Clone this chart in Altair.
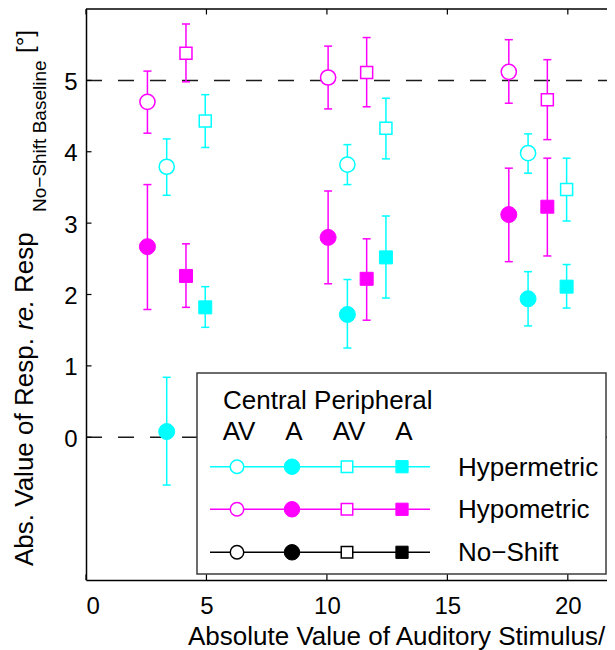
import altair as alt
import pandas as pd

# ---------------- data ----------------
directions = ["Hypermetric", "Hypometric"]
dir_colors = ["#00FFFF", "#FF00FF"]

# x positions of each condition at the three stimulus eccentricities
x_hypo_central = [2.55, 10.05, 17.55]
x_hyper_central = [3.35, 10.85, 18.35]
x_hypo_periph = [4.15, 11.65, 19.15]
x_hyper_periph = [4.95, 12.45, 19.95]

hyper_cen_av_mean = [3.79, 3.82, 3.98]
hyper_cen_av_lo = [3.39, 3.54, 3.70]
hyper_cen_av_hi = [4.18, 4.10, 4.25]

hyper_cen_a_mean = [0.08, 1.72, 1.94]
hyper_cen_a_lo = [-0.67, 1.25, 1.56]
hyper_cen_a_hi = [0.84, 2.21, 2.32]

hyper_per_av_mean = [4.43, 4.33, 3.47]
hyper_per_av_lo = [4.06, 3.90, 3.03]
hyper_per_av_hi = [4.80, 4.75, 3.91]

hyper_per_a_mean = [1.82, 2.52, 2.11]
hyper_per_a_lo = [1.54, 1.95, 1.81]
hyper_per_a_hi = [2.11, 3.10, 2.42]

hypo_cen_av_mean = [4.70, 5.04, 5.12]
hypo_cen_av_lo = [4.26, 4.60, 4.68]
hypo_cen_av_hi = [5.13, 5.48, 5.57]

hypo_cen_a_mean = [2.67, 2.80, 3.12]
hypo_cen_a_lo = [1.79, 2.15, 2.46]
hypo_cen_a_hi = [3.54, 3.45, 3.77]

hypo_per_av_mean = [5.38, 5.11, 4.73]
hypo_per_av_lo = [4.98, 4.63, 4.17]
hypo_per_av_hi = [5.79, 5.60, 5.29]

hypo_per_a_mean = [2.26, 2.22, 3.23]
hypo_per_a_lo = [1.82, 1.64, 2.54]
hypo_per_a_hi = [2.71, 2.78, 3.91]

x_ticks = [0, 5, 10, 15, 20]
y_ticks = [0, 1, 2, 3, 4, 5]
ref_lines = [0, 5]

legend_header = "Central Peripheral"
legend_cols = ["AV", "A", "AV", "A"]
legend_rows = ["Hypermetric", "Hypometric", "No\u2212Shift"]
legend_row_colors = ["#00FFFF", "#FF00FF", "#000000"]

x_title = "Absolute Value of Auditory Stimulus/"
y_title_parts = ["Abs. Value of Resp.", "re.", "Resp", "No\u2212Shift Baseline", "[\u00b0]"]

# ---------------- table ----------------
series = [
    ("Hypermetric", "Central", "AV", x_hyper_central, hyper_cen_av_mean, hyper_cen_av_lo, hyper_cen_av_hi),
    ("Hypermetric", "Central", "A", x_hyper_central, hyper_cen_a_mean, hyper_cen_a_lo, hyper_cen_a_hi),
    ("Hypermetric", "Peripheral", "AV", x_hyper_periph, hyper_per_av_mean, hyper_per_av_lo, hyper_per_av_hi),
    ("Hypermetric", "Peripheral", "A", x_hyper_periph, hyper_per_a_mean, hyper_per_a_lo, hyper_per_a_hi),
    ("Hypometric", "Central", "AV", x_hypo_central, hypo_cen_av_mean, hypo_cen_av_lo, hypo_cen_av_hi),
    ("Hypometric", "Central", "A", x_hypo_central, hypo_cen_a_mean, hypo_cen_a_lo, hypo_cen_a_hi),
    ("Hypometric", "Peripheral", "AV", x_hypo_periph, hypo_per_av_mean, hypo_per_av_lo, hypo_per_av_hi),
    ("Hypometric", "Peripheral", "A", x_hypo_periph, hypo_per_a_mean, hypo_per_a_lo, hypo_per_a_hi),
]
rows = []
for d, loc, mod, xs_, m, lo, hi in series:
    for i in range(len(xs_)):
        rows.append({"dir": d, "loc": loc, "mod": mod, "x": xs_[i],
                     "mean": m[i], "lo": lo[i], "hi": hi[i]})
df = pd.DataFrame(rows)
one = pd.DataFrame({"k": [0]})

# ---------------- layout / style ----------------
W, H = 530, 571
FONT = "Liberation Sans"
xs = alt.Scale(domain=[0, 22], nice=False, zero=False)
ys = alt.Scale(domain=[-2, 6], nice=False, zero=False)
col_scale = alt.Scale(domain=directions, range=dir_colors)

xaxis = alt.Axis(values=x_ticks, title="", ticks=False, tickSize=0, grid=False,
                 labelFontSize=24, labelFont=FONT, labelColor="black", labelPadding=14,
                 domainColor="black", domainWidth=1.5, labelAngle=0, format="d")
yaxis = alt.Axis(values=y_ticks, title="", ticks=False, tickSize=0, grid=False,
                 labelFontSize=24, labelFont=FONT, labelColor="black", labelPadding=9,
                 domainColor="black", domainWidth=1.5, format="d", labelOffset=2)

X = lambda f: alt.X(f, type="quantitative", scale=xs, axis=xaxis)
Y = lambda f: alt.Y(f, type="quantitative", scale=ys, axis=yaxis)

layers = []

# reference dashed lines
layers.append(
    alt.Chart(pd.DataFrame({"v": ref_lines})).mark_rule(
        color="#1a1a1a", strokeWidth=1.5, strokeDash=[16, 16]
    ).encode(y=Y("v"), x=alt.value(0), x2=alt.value(W))
)

base = alt.Chart(df)
col = alt.Color("dir:N", scale=col_scale, legend=None)

# error bars
layers.append(base.mark_rule(strokeWidth=1.5).encode(x=X("x"), y=Y("lo"), y2="hi", color=col))
layers.append(base.mark_tick(orient="horizontal", size=8, thickness=1.5, opacity=1).encode(
    x=X("x"), y=Y("lo"), color=col))
layers.append(base.mark_tick(orient="horizontal", size=8, thickness=1.5, opacity=1).encode(
    x=X("x"), y=Y("hi"), color=col))

# markers
stroke_enc = alt.Stroke("dir:N", scale=col_scale, legend=None)
fill_enc = alt.Fill("dir:N", scale=col_scale, legend=None)
for loc, shape, s_open, s_fill in [("Central", "circle", 231, 256), ("Peripheral", "square", 144, 169)]:
    layers.append(base.transform_filter(
        (alt.datum["loc"] == loc) & (alt.datum["mod"] == "AV")
    ).mark_point(shape=shape, size=s_open, fill="white", strokeWidth=1.5, opacity=1, fillOpacity=1).encode(
        x=X("x"), y=Y("mean"), stroke=stroke_enc))
    layers.append(base.transform_filter(
        (alt.datum["loc"] == loc) & (alt.datum["mod"] == "A")
    ).mark_point(shape=shape, size=s_fill, filled=True, strokeWidth=1, opacity=1).encode(
        x=X("x"), y=Y("mean"), fill=fill_enc, stroke=stroke_enc))

# ---------------- legend (custom block) ----------------
LX0, LX1, LY0, LY1 = 111, 520, 364, 565
layers.append(alt.Chart(one).mark_rect(fill="white", stroke="#3c3c3c", strokeWidth=1.5).encode(
    x=alt.value(LX0), x2=alt.value(LX1), y=alt.value(LY0), y2=alt.value(LY1)))


def txt(text, x, y, size, angle=0, align="left", baseline="alphabetic", style="normal"):
    return alt.Chart(one).mark_text(text=text, font=FONT, fontSize=size, angle=angle, align=align,
                                    baseline=baseline, fontStyle=style, color="black").encode(
        x=alt.value(x), y=alt.value(y))


layers.append(txt(legend_header, 137, 400, 26))
col_px = [151, 206, 261, 316]
for label, px in zip(legend_cols, col_px):
    layers.append(txt(label, px + 2, 431, 26, align="center"))

row_py = [457.7, 500.3, 543.3]
marker_specs = [("circle", False, 182), ("circle", True, 240), ("square", False, 132), ("square", True, 150)]
for label, c, py in zip(legend_rows, legend_row_colors, row_py):
    layers.append(alt.Chart(one).mark_rule(color=c, strokeWidth=1.5).encode(
        x=alt.value(124), x2=alt.value(344), y=alt.value(py)))
    for (shape, filled, size), px in zip(marker_specs, col_px):
        if filled:
            m = alt.Chart(one).mark_point(shape=shape, size=size, filled=True, fill=c, stroke=c,
                                          strokeWidth=1, opacity=1)
        else:
            m = alt.Chart(one).mark_point(shape=shape, size=size, fill="white", stroke=c,
                                          strokeWidth=1.5, opacity=1, fillOpacity=1)
        layers.append(m.encode(x=alt.value(px), y=alt.value(py)))
    layers.append(txt(label, 372, py + 9, 26))

# ---------------- frame: top border and inward ticks ----------------
TL = 5.5
layers.append(alt.Chart(one).mark_rule(color="black", strokeWidth=1.5).encode(
    x=alt.value(0), x2=alt.value(W), y=alt.value(0)))
tx = alt.Chart(pd.DataFrame({"v": x_ticks}))
ty = alt.Chart(pd.DataFrame({"v": y_ticks}))
layers.append(tx.mark_rule(color="black", strokeWidth=1.2).encode(x=X("v"), y=alt.value(0), y2=alt.value(TL)))
layers.append(tx.mark_rule(color="black", strokeWidth=1.2).encode(x=X("v"), y=alt.value(H - TL), y2=alt.value(H)))
layers.append(ty.mark_rule(color="black", strokeWidth=1.2).encode(y=Y("v"), x=alt.value(0), x2=alt.value(TL)))
layers.append(ty.mark_rule(color="black", strokeWidth=1.2).encode(y=Y("v"), x=alt.value(W - TL), x2=alt.value(W)))

# ---------------- axis titles (rich text pieces) ----------------
layers.append(txt(x_title, 102, 636, 26))
YB = -52.7
layers.append(txt(y_title_parts[0], YB, 557, 26, angle=270))
layers.append(txt(y_title_parts[1], YB, 321, 26, angle=270, style="italic"))
layers.append(txt(y_title_parts[2], YB, 284, 26, angle=270))
layers.append(txt(y_title_parts[3], YB + 13, 203, 19, angle=270))
layers.append(txt(y_title_parts[4], YB, 44, 24, angle=270))

chart = alt.layer(*layers).properties(
    width=W, height=H,
    autosize=alt.AutoSizeParams(type="none"),
    padding={"left": 78, "top": 1, "right": -9, "bottom": 70},
    background="white",
).configure_view(stroke="transparent")

chart.save("out.html", embed_options={"renderer": "svg", "actions": False})
